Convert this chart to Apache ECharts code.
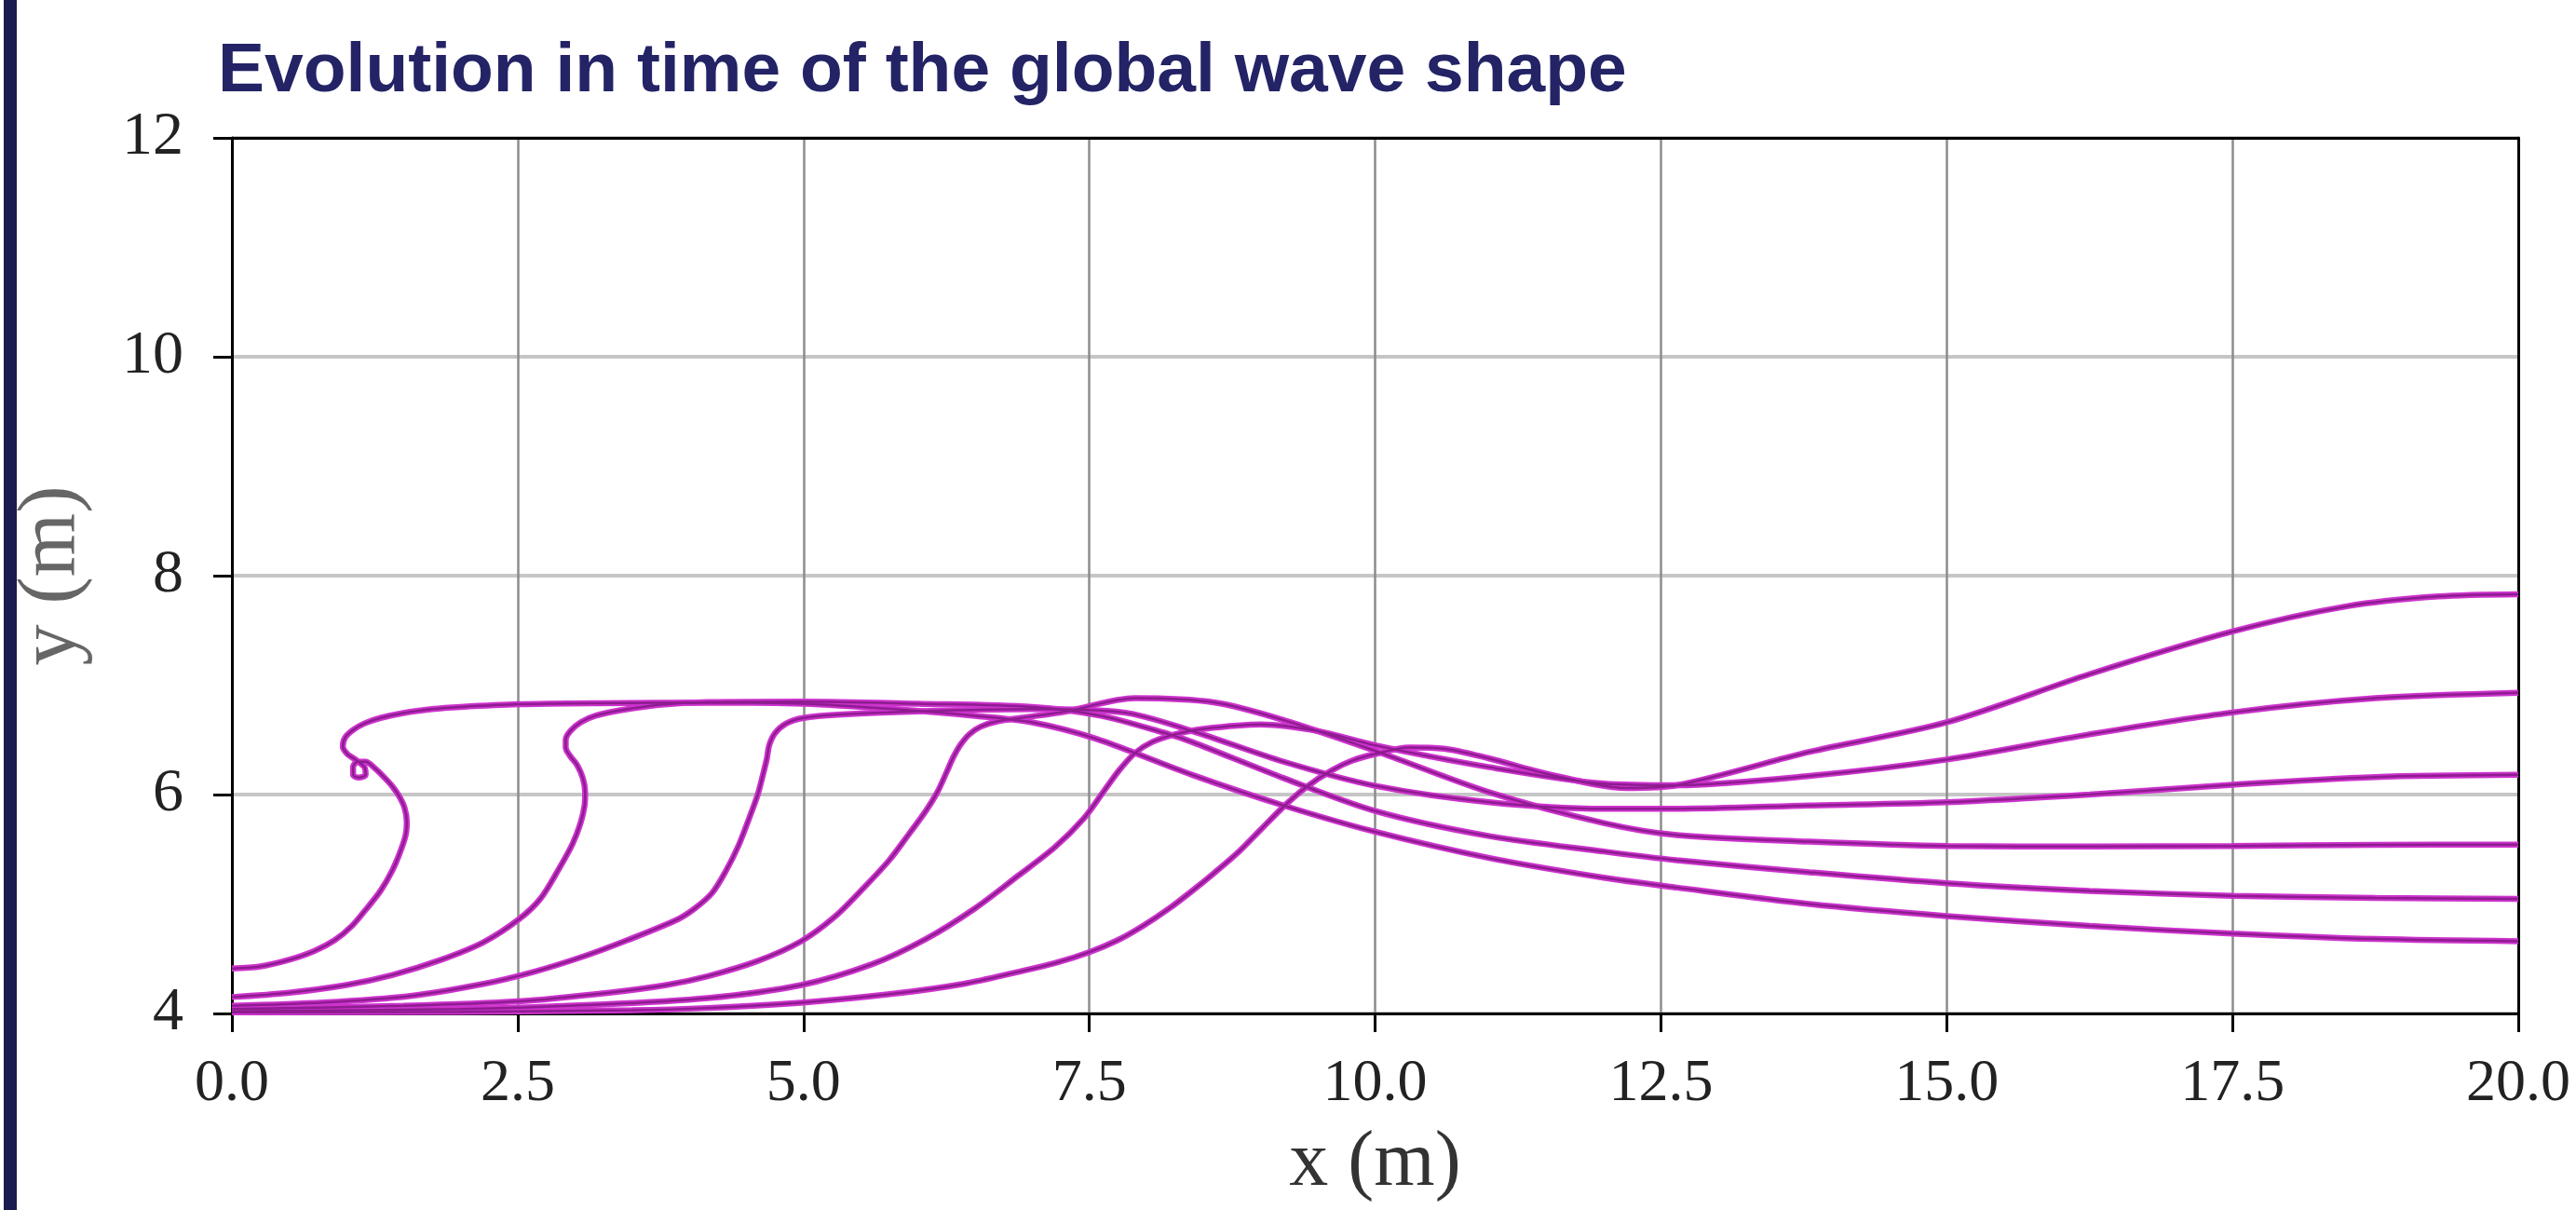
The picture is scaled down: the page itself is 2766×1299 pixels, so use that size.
<!DOCTYPE html>
<html>
<head>
<meta charset="utf-8">
<title>Evolution in time of the global wave shape</title>
<script src="https://cdn.jsdelivr.net/npm/echarts@6/dist/echarts.min.js"></script>
<style>
  html, body { margin: 0; padding: 0; background: #fff; }
  #chart { width: 2766px; height: 1299px; }
</style>
</head>
<body>
<div id="chart"></div>
<script>
// axis ticks
const xTicks = [0, 2.5, 5, 7.5, 10, 12.5, 15, 17.5, 20];
const yTicks = [4, 6, 8, 10, 12];

// wave profiles as [x, y] in metres (ordered along the surface)
const profile1 = [[0, 4.41], [0.25, 4.43], [0.5, 4.49], [0.72, 4.57], [0.9, 4.67], [1.05, 4.8], [1.18, 4.96], [1.3, 5.12],
  [1.4, 5.3], [1.47, 5.47], [1.52, 5.63], [1.53, 5.75], [1.51, 5.88], [1.46, 5.99], [1.4, 6.08], [1.33, 6.16], [1.25, 6.24],
  [1.17, 6.3], [1.1, 6.3], [1.06, 6.25], [1.06, 6.18], [1.11, 6.155], [1.17, 6.18], [1.16, 6.25], [1.08, 6.32], [1.01, 6.37],
  [0.97, 6.44], [0.99, 6.52], [1.06, 6.59], [1.16, 6.65], [1.3, 6.7], [1.5, 6.745], [1.75, 6.78], [2.0, 6.8], [2.5, 6.825],
  [3.2, 6.835], [4.2, 6.84], [5.0, 6.83], [5.8, 6.78], [6.5, 6.72], [7.0, 6.66], [7.56, 6.51], [8.4, 6.18], [9.2, 5.9],
  [10, 5.66], [11, 5.42], [12, 5.24], [12.64, 5.15], [13.8, 5.0], [15, 4.89], [16.25, 4.8], [17.5, 4.73], [18.75, 4.68], [20, 4.66]];
const profile2 = [[0, 4.15], [0.5, 4.19], [1.0, 4.26], [1.4, 4.35], [1.83, 4.49], [2.2, 4.65], [2.51, 4.86], [2.7, 5.05],
  [2.86, 5.32], [2.98, 5.55], [3.05, 5.74], [3.085, 5.9], [3.09, 6.02], [3.07, 6.15], [3.02, 6.27], [2.96, 6.35], [2.92, 6.43],
  [2.92, 6.5], [2.96, 6.58], [3.05, 6.66], [3.18, 6.72], [3.4, 6.77], [3.73, 6.82], [4.16, 6.845], [5, 6.85], [6, 6.83],
  [7, 6.8], [7.6, 6.72], [8.2, 6.55], [8.4, 6.48], [9.2, 6.15], [10, 5.85], [11, 5.62], [12, 5.48], [12.64, 5.4], [13.8, 5.29],
  [15, 5.19], [16.25, 5.12], [17.5, 5.075], [18.75, 5.055], [20, 5.047]];
const profile3 = [[0, 4.07], [0.8, 4.1], [1.56, 4.16], [2.2, 4.27], [2.64, 4.38], [3.1, 4.53], [3.46, 4.67], [3.9, 4.86],
  [4.05, 4.96], [4.2, 5.1], [4.32, 5.3], [4.43, 5.53], [4.52, 5.77], [4.6, 6.0], [4.65, 6.2], [4.68, 6.33], [4.7, 6.45],
  [4.75, 6.56], [4.85, 6.65], [5.0, 6.7], [5.3, 6.73], [6, 6.76], [7, 6.78], [7.8, 6.75], [8.4, 6.58], [9.2, 6.3], [10, 6.08],
  [11, 5.93], [12, 5.87], [12.64, 5.87], [13.8, 5.9], [15, 5.93], [16.25, 6.0], [17.5, 6.09], [18.75, 6.16], [20, 6.18]];
const profile4 = [[0, 4.04], [1.5, 4.07], [2.5, 4.11], [3.3, 4.19], [3.8, 4.26], [4.16, 4.34], [4.6, 4.48], [4.98, 4.66],
  [5.27, 4.88], [5.52, 5.14], [5.75, 5.4], [5.93, 5.65], [6.07, 5.85], [6.17, 6.02], [6.25, 6.2], [6.31, 6.34], [6.37, 6.45],
  [6.45, 6.55], [6.55, 6.62], [6.7, 6.67], [6.9, 6.7], [7.3, 6.76], [7.9, 6.88], [8.6, 6.84], [9.2, 6.68], [10, 6.4],
  [11, 6.02], [12, 5.74], [12.64, 5.63], [13.8, 5.57], [15, 5.53], [16.25, 5.525], [17.5, 5.53], [18.75, 5.54], [20, 5.543]];
const profile5 = [[0, 4.02], [2, 4.04], [3.2, 4.08], [4.16, 4.14], [4.98, 4.26], [5.6, 4.45], [6.07, 4.68], [6.5, 4.96],
  [6.88, 5.26], [7.2, 5.52], [7.45, 5.78], [7.62, 6.02], [7.76, 6.22], [7.9, 6.38], [8.05, 6.48], [8.25, 6.55], [8.5, 6.6],
  [9, 6.64], [9.5, 6.58], [10, 6.45], [11, 6.25], [12, 6.1], [12.64, 6.085], [13.8, 6.17], [15, 6.32], [16.25, 6.55],
  [17.5, 6.75], [18.75, 6.88], [20, 6.93]];
const profile6 = [[0, 4.01], [2, 4.015], [3.5, 4.03], [4.16, 4.05], [5, 4.1], [5.79, 4.18], [6.4, 4.27], [6.88, 4.38],
  [7.2, 4.46], [7.5, 4.56], [7.75, 4.67], [7.97, 4.8], [8.2, 4.96], [8.4, 5.12], [8.6, 5.29], [8.81, 5.48], [9.0, 5.68],
  [9.21, 5.9], [9.4, 6.07], [9.62, 6.22], [9.8, 6.31], [10, 6.37], [10.3, 6.43], [10.6, 6.42], [11, 6.33], [11.5, 6.19],
  [12.2, 6.06], [12.64, 6.085], [13.8, 6.39], [15, 6.66], [16.25, 7.1], [17.5, 7.49], [18.5, 7.72], [19.3, 7.81], [20, 7.83]];

const profiles = [profile1, profile2, profile3, profile4, profile5, profile6];

let chart = echarts.init(document.getElementById('chart'), null, { renderer: 'canvas' });

const serifFont = '"Liberation Serif", "DejaVu Serif", serif';

// plain black frame for the top and right sides
const frameAxis = {
  type: 'value',
  axisLine: { show: true, onZero: false, lineStyle: { color: '#000', width: 3 } },
  axisTick: { show: false },
  axisLabel: { show: false },
  splitLine: { show: false }
};

// each profile: a bright magenta stroke with a darker core, like the original
let series = [];
profiles.forEach((p, i) => {
  series.push({
    name: 't' + (i + 1),
    type: 'line',
    data: p,
    showSymbol: false,
    smooth: 0.3,
    z: 5,
    lineStyle: { color: '#cc33cc', width: 6.5 }
  });
});
profiles.forEach((p, i) => {
  series.push({
    name: 't' + (i + 1) + ' core',
    type: 'line',
    data: p,
    showSymbol: false,
    smooth: 0.3,
    z: 6,
    lineStyle: { color: '#8e1c90', width: 2.5 }
  });
});

let option = {
  backgroundColor: '#ffffff',
  animation: false,
  title: {
    text: 'Evolution in time of the global wave shape',
    left: 229,
    top: 35,
    textStyle: {
      fontFamily: '"Liberation Sans", Arial, sans-serif',
      fontWeight: 'bold',
      fontSize: 75,
      color: '#232366'
    }
  },
  graphic: [
    { type: 'rect', shape: { x: 4, y: 0, width: 14, height: 1299 }, style: { fill: '#1b1b4f' } }
  ],
  grid: {
    left: 249, right: 62, top: 148, bottom: 211
  },
  xAxis: [{
    type: 'value',
    min: 0,
    max: 20,
    interval: 2.5,
    name: 'x (m)',
    nameLocation: 'middle',
    nameGap: 120,
    nameTextStyle: { fontFamily: serifFont, fontSize: 84, color: '#333' },
    axisLine: { show: true, onZero: false, lineStyle: { color: '#000', width: 3 } },
    axisTick: { show: true, length: 20, lineStyle: { color: '#000', width: 3 } },
    axisLabel: {
      margin: 44,
      fontFamily: serifFont,
      fontSize: 64,
      color: '#222',
      formatter: v => xTicks.includes(v) ? v.toFixed(1) : ''
    },
    splitLine: { show: true, lineStyle: { color: '#8c8c8c', width: 2.5 } }
  }, Object.assign({ position: 'top', min: 0, max: 20 }, frameAxis)],
  yAxis: [{
    type: 'value',
    min: 4,
    max: 12,
    interval: 2,
    name: 'y (m)',
    nameLocation: 'middle',
    nameGap: 148,
    nameTextStyle: { fontFamily: serifFont, fontSize: 88, color: '#666' },
    axisLine: { show: true, onZero: false, lineStyle: { color: '#000', width: 3 } },
    axisTick: { show: true, length: 20, lineStyle: { color: '#000', width: 3 } },
    axisLabel: {
      margin: 52,
      fontFamily: serifFont,
      fontSize: 66,
      color: '#222',
      formatter: v => yTicks.includes(v) ? String(v) : ''
    },
    splitLine: { show: true, lineStyle: { color: '#c6c6c6', width: 4 } }
  }, Object.assign({ position: 'right', min: 4, max: 12 }, frameAxis)],
  series: series
};

chart.setOption(option);
window.addEventListener('resize', chart.resize);
</script>
</body>
</html>
